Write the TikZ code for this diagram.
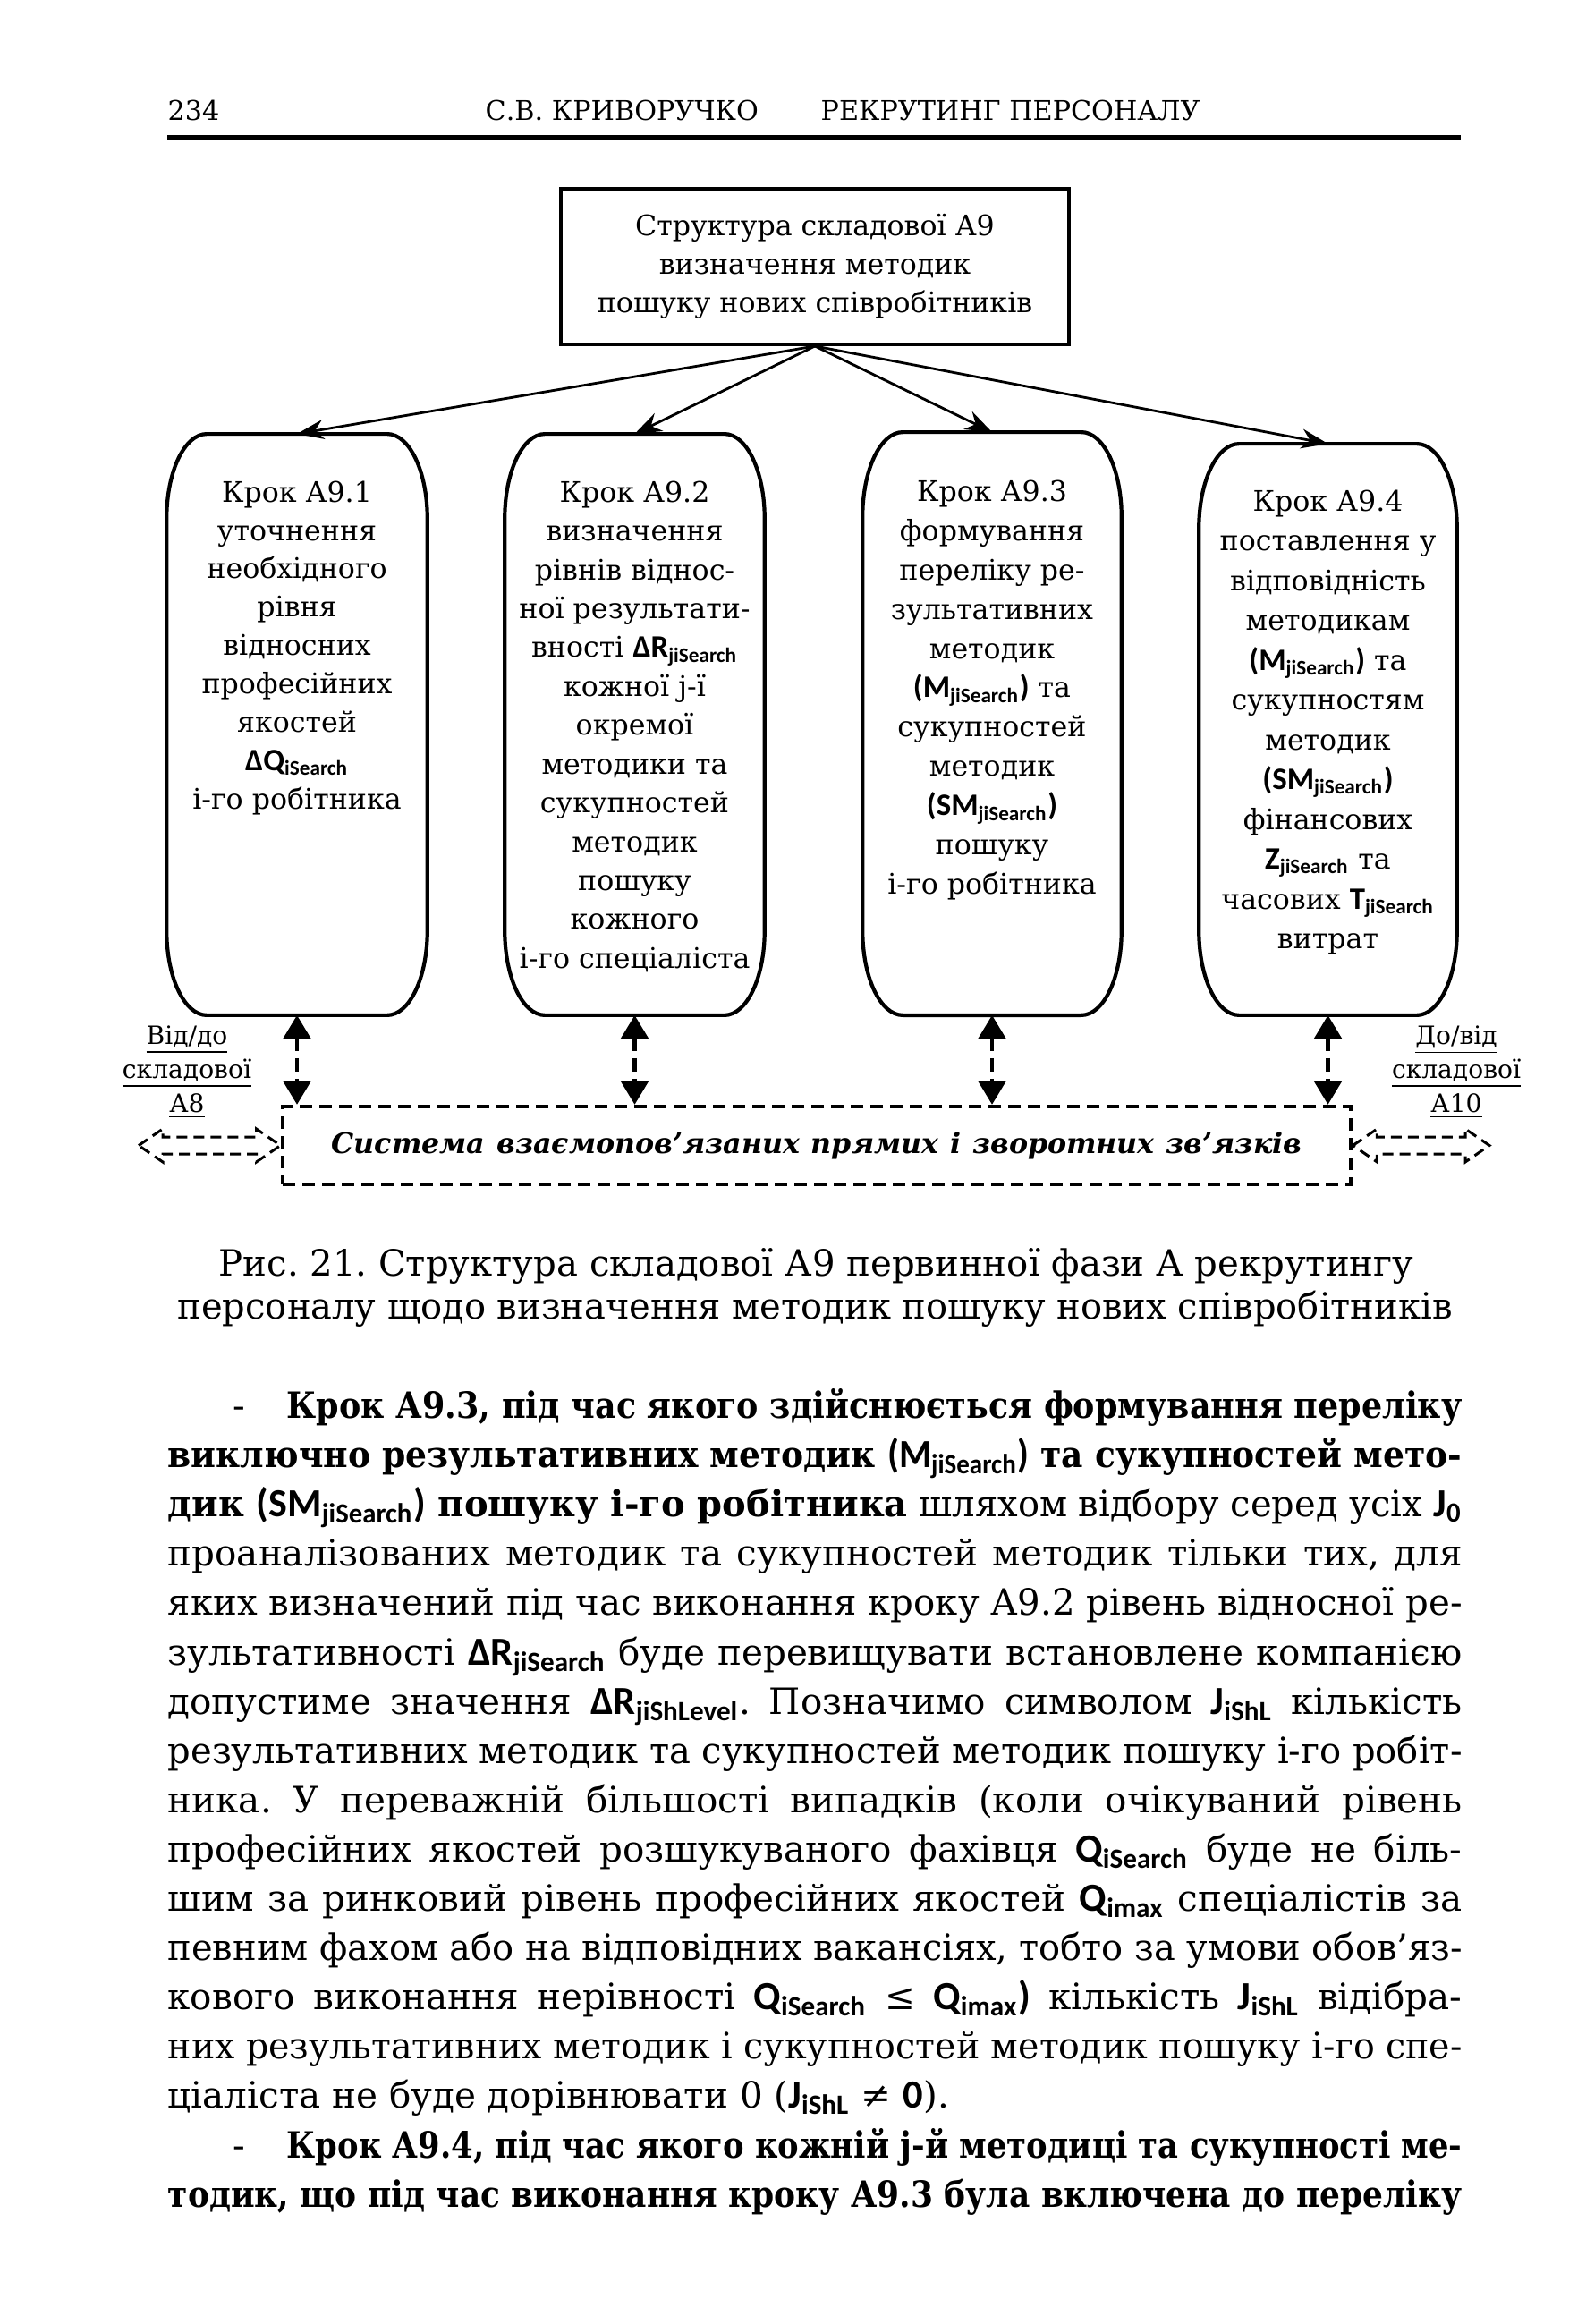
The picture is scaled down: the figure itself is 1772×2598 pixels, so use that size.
\documentclass[tikz,border=0pt]{standalone}
\usepackage{fontspec}
\usepackage{graphicx}
\setmainfont{DejaVu Serif}
\newfontfamily\carl[Scale=1.1]{Carlito}
\usetikzlibrary{arrows.meta,calc}
\frenchspacing
\newlength\jlw
\newlength\jlt
\newcommand\jline[2]{\setlength\jlt{#1}\settowidth\jlw{#2}%
  \ifdim\jlw>\jlt\pgfmathsetmacro\jlr{\jlt/\jlw}\scalebox{\jlr}[1]{#2}%
  \else\makebox[\jlt][s]{#2}\fi}
\newcommand\hfit[2]{\setlength\jlt{#1}\settowidth\jlw{#2}%
  \pgfmathsetmacro\jlr{\jlt/\jlw}\scalebox{\jlr}[1]{#2}}
\newcommand\sy[2]{{\carl\bfseries #1\textsubscript{#2}}}
\newcommand\syp[2]{{\carl\bfseries (#1\textsubscript{#2})}}
\newcommand\stadium[1]{%
  \draw[boxline] ($(#1.north west)+(45,0)$) -- ($(#1.north east)+(-45,0)$)
   .. controls ($(#1.north east)+(-20,0)$) and ($(#1.north east)+(0,42)$) .. ($(#1.north east)+(0,95)$)
   -- ($(#1.south east)+(0,-95)$)
   .. controls ($(#1.south east)+(0,-42)$) and ($(#1.south east)+(-20,0)$) .. ($(#1.south east)+(-45,0)$)
   -- ($(#1.south west)+(45,0)$)
   .. controls ($(#1.south west)+(20,0)$) and ($(#1.south west)+(0,-42)$) .. ($(#1.south west)+(0,-95)$)
   -- ($(#1.north west)+(0,95)$)
   .. controls ($(#1.north west)+(0,42)$) and ($(#1.north west)+(20,0)$) .. ($(#1.north west)+(45,0)$) -- cycle;}
\newcommand\dblarrow[2]{%
  \draw[blockarrow] (#1) -- ++(27,-18.5) -- ++(0,9) -- ($(#2)+(-27,-9.5)$) -- ++(0,-9) -- (#2)
   -- ++(-27,18.5) -- ++(0,-9) -- ($(#1)+(27,9.5)$) -- ++(0,9) -- cycle;}
\begin{document}
\begin{tikzpicture}[x=0.01cm,y=-0.01cm,
  stepframe/.style={draw=none,inner sep=0},
  steptext/.style={anchor=north,inner sep=0,align=center},
  boxline/.style={line width=0.042cm},
  toparrow/.style={line width=0.028cm,-{Stealth[length=0.3cm,width=0.22cm]}},
  linkarrow/.style={line width=0.045cm,dash pattern=on 0.15cm off 0.08cm,
     {Triangle[length=0.26cm,width=0.3cm]}-{Triangle[length=0.26cm,width=0.3cm]}},
  dashframe/.style={draw,line width=0.042cm,dash pattern=on 0.14cm off 0.08cm,inner sep=0},
  blockarrow/.style={line width=0.03cm,dash pattern=on 0.12cm off 0.07cm},
  sidelabel/.style={align=center,inner sep=0,anchor=base,font=\fontsize{8}{10.8}\selectfont},
  headtext/.style={anchor=base west,inner sep=0,font=\fontsize{8.6}{10}\selectfont},
  captext/.style={anchor=base,inner sep=0,font=\fontsize{11.5}{14}\selectfont},
  bodytext/.style={anchor=base west,inner sep=0,font=\fontsize{11.5}{14}\selectfont}]
\fill[white] (0,0) rectangle (1772,2598);
\path[use as bounding box] (0,0) rectangle (1772,2598);

% header
\node[headtext] (h1) at (187,135) {234};
\node[headtext] (h2) at (542,135) {С.В. КРИВОРУЧКО};
\node[headtext] (h3) at (917,135) {РЕКРУТИНГ ПЕРСОНАЛУ};
\draw[line width=0.045cm] (187,153.5) -- (1633,153.5);

% top box
\node[draw,line width=0.038cm,minimum width=5.68cm,minimum height=1.74cm,
  align=center,inner sep=0,font=\fontsize{9}{12.2}\selectfont] (top) at (911,298)
  {Структура складової А9\\визначення методик\\пошуку нових співробітників};

% step frames
\node[stepframe,minimum width=2.90cm,minimum height=6.48cm] (s1) at (332,810) {};
\node[stepframe,minimum width=2.89cm,minimum height=6.48cm] (s2) at (709.5,810) {};
\node[stepframe,minimum width=2.88cm,minimum height=6.50cm] (s3) at (1109,809) {};
\node[stepframe,minimum width=2.87cm,minimum height=6.37cm] (s4) at (1484.5,815.5) {};
\stadium{s1}
\stadium{s2}
\stadium{s3}
\stadium{s4}

\node[steptext,font=\fontsize{9}{12.2}\selectfont] (t1) at (332,537) {Крок А9.1\\уточнення\\необхідного\\рівня\\відносних\\професійних\\якостей\\\sy{ΔQ}{iSearch}\\і-го робітника};
\node[steptext,font=\fontsize{9}{12.35}\selectfont] (t2) at (709.5,537) {Крок А9.2\\визначення\\рівнів віднос-\\ної результати-\\вності \sy{ΔR}{jiSearch}\\кожної j-ї\\окремої\\методики та\\сукупностей\\методик\\пошуку\\кожного\\і-го спеціаліста};
\node[steptext,font=\fontsize{9}{12.5}\selectfont] (t3) at (1109,536) {Крок А9.3\\формування\\переліку ре-\\зультативних\\методик\\\syp{M}{jiSearch} та\\сукупностей\\методик\\\syp{SM}{jiSearch}\\пошуку\\і-го робітника};
\node[steptext,font=\fontsize{9}{12.65}\selectfont] (t4) at (1484.5,547) {Крок А9.4\\поставлення у\\відповідність\\методикам\\\syp{M}{jiSearch} та\\сукупностям\\методик\\\syp{SM}{jiSearch}\\фінансових\\\sy{Z}{jiSearch} та\\часових \sy{T}{jiSearch}\\витрат};

\draw[toparrow] (top.south) -- (s1.north);
\draw[toparrow] (top.south) -- (s2.north);
\draw[toparrow] (top.south) -- (s3.north);
\draw[toparrow] (top.south) -- (s4.north);

% feedback frame
\node[dashframe,minimum width=11.94cm,minimum height=0.87cm,font=\fontsize{9}{11}\selectfont\bfseries\itshape] (frame) at (913,1280.5)
  {\jline{10.84cm}{Система взаємопов’язаних прямих і зворотних зв’язків}};

\draw[linkarrow] (s1.south) -- (s1.south |- frame.north);
\draw[linkarrow] (s2.south) -- (s2.south |- frame.north);
\draw[linkarrow] (s3.south) -- (s3.south |- frame.north);
\draw[linkarrow] (s4.south) -- (s4.south |- frame.north);

\node[sidelabel] (lab1) at (209,1243) {\underline{Від/до}\\\underline{складової}\\\underline{А8}};
\node[sidelabel] (lab2) at (1628,1243) {\underline{До/від}\\\underline{складової}\\\underline{А10}};
\coordinate (la) at (155,1280.5);
\coordinate (rb) at (1665,1280.5);
\dblarrow{la}{frame.west}
\dblarrow{frame.east}{rb}

% caption
\node[captext] (cap1) at (912.5,1426) {\hfit{13.35cm}{Рис. 21. Структура складової А9 первинної фази А рекрутингу}};
\node[captext] (cap2) at (911,1474) {\hfit{14.24cm}{персоналу щодо визначення методик пошуку нових співробітників}};

% body
\node[bodytext] (d1) at (260,1585) {-};
\node[bodytext] (b1) at (320,1585) {\jline{13.13cm}{\bfseries Крок А9.3, під час якого здійснюється формування переліку}};
\node[bodytext] (b2) at (187,1640) {\jline{14.46cm}{\bfseries виключно результативних методик \syp{M}{jiSearch} та сукупностей мето-}};
\node[bodytext] (b3) at (187,1695) {\jline{14.46cm}{\textbf{дик \syp{SM}{jiSearch} пошуку і-го робітника} шляхом відбору серед усіх \sy{J}{0}}};
\node[bodytext] (b4) at (187,1750) {\jline{14.46cm}{проаналізованих методик та сукупностей методик тільки тих, для}};
\node[bodytext] (b5) at (187,1805) {\jline{14.46cm}{яких визначений під час виконання кроку А9.2 рівень відносної ре-}};
\node[bodytext] (b6) at (187,1861) {\jline{14.46cm}{зультативності \sy{ΔR}{jiSearch} буде перевищувати встановлене компанією}};
\node[bodytext] (b7) at (187,1916) {\jline{14.46cm}{допустиме значення \sy{ΔR}{jiShLevel}. Позначимо символом \sy{J}{iShL} кількість}};
\node[bodytext] (b8) at (187,1971) {\jline{14.46cm}{результативних методик та сукупностей методик пошуку і-го робіт-}};
\node[bodytext] (b9) at (187,2026) {\jline{14.46cm}{ника. У переважній більшості випадків (коли очікуваний рівень}};
\node[bodytext] (b10) at (187,2081) {\jline{14.46cm}{професійних якостей розшукуваного фахівця \sy{Q}{iSearch} буде не біль-}};
\node[bodytext] (b11) at (187,2136) {\jline{14.46cm}{шим за ринковий рівень професійних якостей \sy{Q}{imax} спеціалістів за}};
\node[bodytext] (b12) at (187,2191) {\jline{14.46cm}{певним фахом або на відповідних вакансіях, тобто за умови обов’яз-}};
\node[bodytext] (b13) at (187,2246) {\jline{14.46cm}{кового виконання нерівності \sy{Q}{iSearch} ≤ \sy{Q}{imax}{\carl\bfseries )} кількість \sy{J}{iShL} відібра-}};
\node[bodytext] (b14) at (187,2301) {\jline{14.46cm}{них результативних методик і сукупностей методик пошуку і-го спе-}};
\node[bodytext] (b15) at (187,2356) {ціаліста не буде дорівнювати 0 (\sy{J}{iShL} ≠ {\carl\bfseries 0}).};
\node[bodytext] (d16) at (260,2412) {-};
\node[bodytext] (b16) at (320,2412) {\jline{13.13cm}{\bfseries Крок А9.4, під час якого кожній j-й методиці та сукупності ме-}};
\node[bodytext] (b17) at (187,2467) {\jline{14.46cm}{\bfseries тодик, що під час виконання кроку А9.3 була включена до переліку}};
\end{tikzpicture}
\end{document}
